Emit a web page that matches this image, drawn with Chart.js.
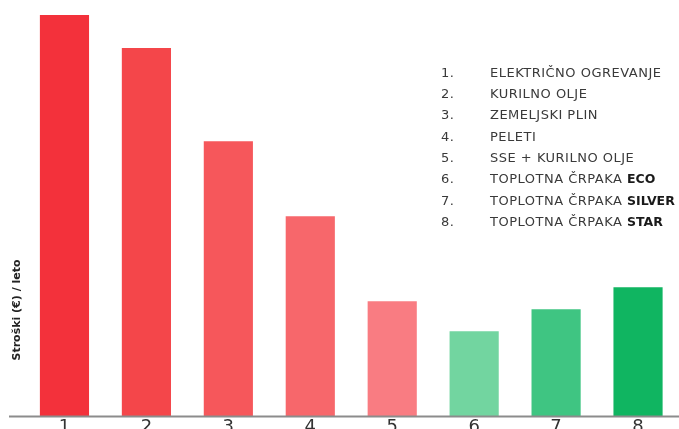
<!DOCTYPE html>
<html>
<head>
<meta charset="utf-8">
<script src="https://cdn.jsdelivr.net/npm/chart.js@4/dist/chart.umd.min.js"></script>
<style>
  html, body { margin: 0; padding: 0; background: #fff; overflow: hidden; height: 429px; }
  #clip { width: 679px; height: 429px; overflow: hidden; }
  #wrap { position: relative; width: 679px; height: 438px; }
</style>
</head>
<body>
<div id="clip"><div id="wrap"><canvas id="myChart"></canvas></div></div>
<script>
const categories = ['1', '2', '3', '4', '5', '6', '7', '8'];
const costs = [2005, 1840, 1375, 1000, 575, 425, 535, 645];
const barColors = ['#F3313B', '#F4464A', '#F6575B', '#F7676B', '#F97C82', '#72D5A0', '#3FC582', '#10B561'];
const legendNames = [
  ['ELEKTRIČNO OGREVANJE', ''],
  ['KURILNO OLJE', ''],
  ['ZEMELJSKI PLIN', ''],
  ['PELETI', ''],
  ['SSE + KURILNO OLJE', ''],
  ['TOPLOTNA ČRPAKA ', 'ECO'],
  ['TOPLOTNA ČRPAKA ', 'SILVER'],
  ['TOPLOTNA ČRPAKA ', 'STAR'],
];
const yTitle = 'Stroški (€) / leto';

const fontFamily = '"DejaVu Sans", sans-serif';

// axis line, y title and the numbered list on the right
const extras = {
  id: 'extras',
  afterDraw(chart) {
    const { ctx, chartArea: { right }, scales: { x } } = chart;
    ctx.save();
    ctx.strokeStyle = '#8c8c8c';
    ctx.lineWidth = 2;
    ctx.beginPath();
    ctx.moveTo(9, x.top);
    ctx.lineTo(right, x.top);
    ctx.stroke();

    ctx.translate(17, 310);
    ctx.rotate(-Math.PI / 2);
    ctx.fillStyle = '#222';
    ctx.font = 'bold 11px ' + fontFamily;
    ctx.textAlign = 'center';
    ctx.textBaseline = 'middle';
    ctx.fillText(yTitle, 0, 0);
    ctx.restore();

    ctx.save();
    ctx.textBaseline = 'middle';
    legendNames.forEach((item, i) => {
      const y = 73.5 + i * 21.3;
      ctx.letterSpacing = '0.5px';
      ctx.fillStyle = '#3a3a3a';
      ctx.font = '13px ' + fontFamily;
      ctx.fillText((i + 1) + '.', 441, y);
      ctx.fillText(item[0], 490, y);
      if (item[1]) {
        const w = ctx.measureText(item[0]).width;
        ctx.letterSpacing = '0px';
        ctx.fillStyle = '#1a1a1a';
        ctx.font = 'bold 12.5px ' + fontFamily;
        ctx.fillText(item[1], 490 + w, y);
      }
    });
    ctx.restore();
  },
};

const config = {
  type: 'bar',
  data: {
    labels: categories,
    datasets: [{
      data: costs,
      backgroundColor: barColors,
      borderWidth: 0,
      barPercentage: 0.6,
      categoryPercentage: 1,
    }],
  },
  options: {
    responsive: true,
    maintainAspectRatio: false,
    animation: false,
    layout: { padding: { left: 23.5, right: 0, top: 15, bottom: 0 } },
    plugins: { legend: { display: false }, tooltip: { enabled: false } },
    scales: {
      x: {
        grid: { display: false, drawTicks: false },
        border: { display: false },
        ticks: { padding: 0, color: '#333', font: { family: fontFamily, size: 18 } },
      },
      y: { display: false, min: 0, max: 2005 },
    },
  },
  plugins: [extras],
};

const myChart = new Chart(document.getElementById('myChart'), config);
</script>
</body>
</html>
